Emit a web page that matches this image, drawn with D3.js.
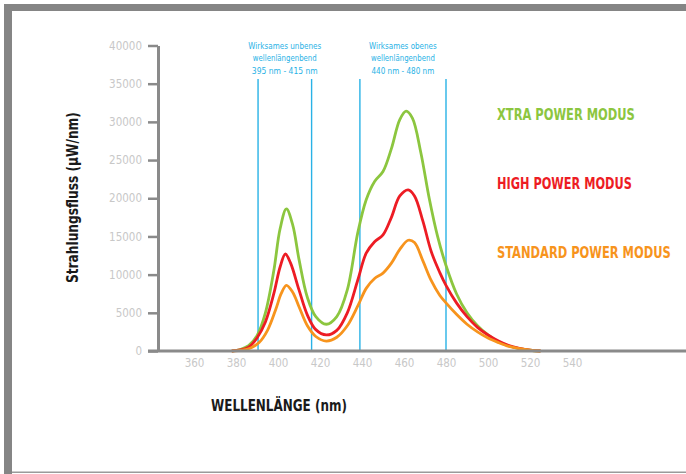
<!DOCTYPE html>
<html><head><meta charset="utf-8">
<script src="https://cdn.jsdelivr.net/npm/d3@7"></script>
<style>
html,body{margin:0;padding:0;background:#fff;}
svg{display:block;}
.cond{font-family:"Liberation Sans Narrow","DejaVu Sans Condensed","Arial Narrow",sans-serif;}
</style></head>
<body>
<svg id="c" width="686" height="474"></svg>
<script>
// ---- data ----
const yTicks = [0,5000,10000,15000,20000,25000,30000,35000,40000];
const xTicks = [360,380,400,420,440,460,480,500,520,540];
const bandLines = [390.5, 416, 439, 480];
const bandLabels = [
  ["Wirksames unbenes","wellenlängenbend","395 nm - 415 nm"],
  ["Wirksames obenes","wellenlängenbend","440 nm - 480 nm"]
];
const xtraNm =  [378,382,386,390,394,398,401,404,407,410,414,418,423,428,433,438,442,446,450,454,458,461,464,468,472,476,480,485,490,495,500,505,510,515,520,525];
const xtraVal = [0,200,700,2000,5000,10500,16000,18600,16500,12000,7000,4500,3500,4500,8000,15500,19800,22200,23500,26500,30300,31400,30500,26000,20000,15000,11200,7500,5000,3300,2100,1200,650,300,100,0];
const highNm =  [378,382,386,390,394,398,401,403.5,406,410,414,418,423,428,433,438,442,446,450,454,458,462,465,469,473,477,480,485,490,495,500,505,510,515,520,525];
const highVal = [0,150,500,1700,3800,7500,11000,12700,11500,8000,4700,2800,2100,2700,5000,9300,12800,14300,15200,17500,20300,21100,20300,17000,13000,10300,8600,6300,4500,3100,2100,1300,700,350,120,0];
const stdNm =  [378,383,387,391,395,399,401.5,404,407,410,414,418,423,428,433,438,442,446,450,454,458,462,465,469,473,477,480,485,490,495,500,505,510,515,520,525];
const stdVal = [0,100,400,1100,2700,5500,7500,8600,7700,5800,3300,1900,1300,1800,3300,5900,8200,9500,10200,11500,13300,14500,14200,11800,9200,7300,6300,4800,3500,2500,1700,1100,600,300,100,0];
const seriesNames = ["XTRA POWER MODUS","HIGH POWER MODUS","STANDARD POWER MODUS"];
const seriesColors = ["#8cc63f","#ed1c24","#f7941d"];
const legendVals = [31000, 22000, 13000];

// ---- drawing ----
const svg = d3.select("#c");
const x = d3.scaleLinear().domain([360,540]).range([194,572]);
const y = d3.scaleLinear().domain([0,40000]).range([351,45.5]);

// place a text at (px,py) [optionally rotated], horizontally scaled to width w
function fitText(str, px, py, w, anchor, rot, attrs){
  const g = svg.append("g");
  const t = g.append("text").attr("class","cond").attr("x",0).attr("y",0).text(str);
  Object.entries(attrs).forEach(([k,v])=>t.attr(k,v));
  const w0 = t.node().getComputedTextLength();
  const s = w / w0;
  const off = anchor==="middle" ? -w0/2 : 0;
  t.attr("x", off);
  g.attr("transform", `translate(${px},${py})` + (rot ? ` rotate(${rot})` : "") + ` scale(${s},1)`);
  return t;
}

// frame
svg.append("rect").attr("x",4).attr("y",4).attr("width",8).attr("height",470).attr("fill","#858585");
svg.append("rect").attr("x",4).attr("y",4).attr("width",682).attr("height",7).attr("fill","#858585");
svg.append("rect").attr("x",12).attr("y",471.5).attr("width",674).attr("height",1.5).attr("fill","#9a9a9a");

// band lines
const blue = "#29b2e6";
svg.selectAll(".band").data(bandLines).enter().append("line")
  .attr("x1",d=>x(d)).attr("x2",d=>x(d)).attr("y1",79).attr("y2",351)
  .attr("stroke",blue).attr("stroke-width",1.4);
const labelWidths = [[73,64,66],[68,64,63]];
bandLabels.forEach((lines,i)=>{
  const cx = (x(bandLines[i*2])+x(bandLines[i*2+1]))/2;
  lines.forEach((s,j)=>{
    fitText(s, cx, 48.5+j*12.5, labelWidths[i][j], "middle", 0, {"fill":blue,"font-size":9.5});
  });
});

// curves
const line = d3.line().x(d=>x(d[0])).y(d=>y(d[1])).curve(d3.curveCatmullRom.alpha(0.5));
const data = [d3.zip(xtraNm,xtraVal), d3.zip(highNm,highVal), d3.zip(stdNm,stdVal)];
data.forEach((d,i)=>{
  svg.append("path").datum(d).attr("d",line).attr("fill","none")
    .attr("stroke",seriesColors[i]).attr("stroke-width",2.8).attr("stroke-linejoin","round");
});

// axes
const axisColor = "#8a8a8a";
const yAxis = svg.append("g").attr("transform","translate(158,0)")
  .call(d3.axisLeft(y).tickValues(yTicks).tickSize(10).tickSizeOuter(0).tickPadding(6).tickFormat(d3.format("d")));
yAxis.select(".domain").attr("stroke",axisColor).attr("stroke-width",3);
yAxis.selectAll(".tick line").attr("stroke",axisColor).attr("stroke-width",2.5);
yAxis.selectAll("text").attr("class","cond").attr("fill","#c8c8c8").attr("font-size",11.5);

svg.append("line").attr("x1",148).attr("x2",686).attr("y1",351).attr("y2",351)
  .attr("stroke",axisColor).attr("stroke-width",3);
const xAxis = svg.append("g").attr("transform","translate(0,351)")
  .call(d3.axisBottom(x).tickValues(xTicks).tickSize(0).tickPadding(8));
xAxis.select(".domain").remove();
xAxis.selectAll("text").attr("class","cond").attr("fill","#c8c8c8").attr("font-size",11.5);

// legend
const legendWidths = [138,135,174];
seriesNames.forEach((s,i)=>{
  fitText(s, 497, y(legendVals[i])+6, legendWidths[i], "start", 0,
    {"fill":seriesColors[i],"font-size":15.5,"font-weight":"bold"});
});

// titles
fitText("Strahlungsfluss (µW/nm)", 77.5, 197.5, 171, "middle", -90,
  {"font-size":15,"font-weight":"bold","fill":"#1a1a1a"});
fitText("WELLENLÄNGE (nm)", 279, 411, 136, "middle", 0,
  {"font-size":15.5,"font-weight":"bold","fill":"#1a1a1a"});
</script>
</body></html>
